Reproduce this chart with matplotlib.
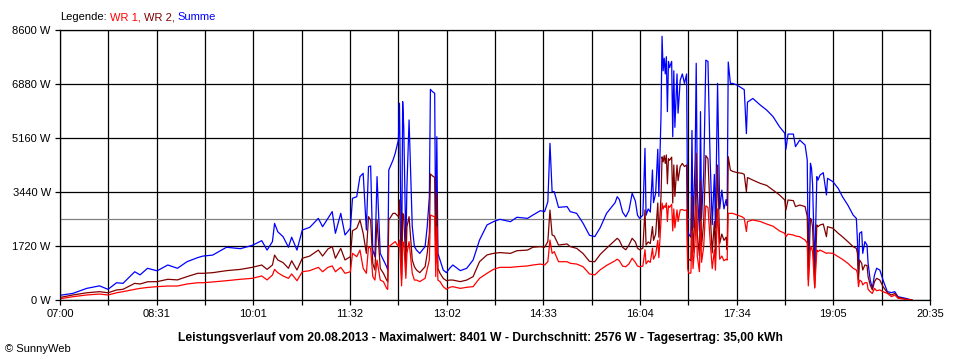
import numpy as np
import matplotlib
matplotlib.use("Agg")
import matplotlib.pyplot as plt

plt.rcParams['font.family'] = ['Liberation Sans', 'DejaVu Sans']

# readings taken off the SunnyWeb chart (time, watts)
times = [
    "07:00", "07:12", "07:25", "07:37", "07:45", "07:53", "07:59", "08:10", "08:15", "08:22",
    "08:31", "08:41", "08:50", "08:59", "09:09", "09:14", "09:23", "09:36", "09:49", "10:00",
    "10:09", "10:14", "10:19", "10:21", "10:24", "10:29", "10:34", "10:37", "10:42", "10:47",
    "10:54", "11:02", "11:06", "11:11", "11:15", "11:18", "11:23", "11:27", "11:32", "11:34",
    "11:38", "11:41", "11:44", "11:47", "11:49", "11:51", "11:53", "11:55", "11:57", "12:00",
    "12:03", "12:06", "12:07", "12:08", "12:12", "12:14", "12:17", "12:18", "12:20", "12:21",
    "12:22", "12:24", "12:25", "12:27", "12:30", "12:32", "12:34", "12:37", "12:42", "12:44",
    "12:46", "12:47", "12:49", "12:51", "12:52", "12:53", "12:54", "12:56", "12:59", "13:02",
    "13:05", "13:08", "13:15", "13:21", "13:27", "13:33", "13:40", "13:46", "13:52", "14:02",
    "14:08", "14:18", "14:23", "14:30", "14:34", "14:37", "14:39", "14:41", "14:43", "14:47",
    "14:55", "14:58", "15:04", "15:10", "15:16", "15:21", "15:26", "15:32", "15:40", "15:42",
    "15:44", "15:47", "15:50", "15:53", "15:56", "15:59", "16:01", "16:03", "16:06", "16:08",
    "16:09", "16:11", "16:13", "16:15", "16:16", "16:18", "16:20", "16:21", "16:23", "16:24",
    "16:25", "16:26", "16:27", "16:28", "16:29", "16:30", "16:31", "16:33", "16:34", "16:35",
    "16:36", "16:38", "16:39", "16:41", "16:43", "16:45", "16:47", "16:48", "16:49", "16:51",
    "16:52", "16:53", "16:55", "16:56", "16:57", "16:59", "17:00", "17:01", "17:03", "17:05",
    "17:07", "17:09", "17:11", "17:13", "17:14", "17:16", "17:18", "17:20", "17:22", "17:24",
    "17:25", "17:26", "17:28", "17:30", "17:34", "17:39", "17:41", "17:43", "17:44", "17:49",
    "17:56", "18:02", "18:08", "18:14", "18:19", "18:20", "18:22", "18:27", "18:29", "18:33",
    "18:38", "18:40", "18:41", "18:43", "18:44", "18:45", "18:47", "18:49", "18:50", "18:52",
    "18:55", "18:58", "18:59", "19:04", "19:09", "19:13", "19:18", "19:23", "19:26", "19:27",
    "19:28", "19:29", "19:31", "19:32", "19:34", "19:36", "19:37", "19:39", "19:41", "19:43",
    "19:45", "19:48", "19:51", "19:55", "19:59", "20:02", "20:05", "20:12", "20:18",
]

summe = [
    150, 210, 370, 450, 340, 550, 530, 900, 800, 1010,
    930, 1115, 1010, 1220, 1350, 1400, 1430, 1680, 1635, 1740,
    1890, 1590, 1860, 2440, 2175, 2015, 1680, 2000, 1590, 2230,
    2315, 2600, 2335, 2600, 2815, 2125, 2760, 2070, 2285, 3240,
    3290, 3930, 4035, 2230, 4245, 4270, 1590, 1380, 3930, 1485,
    1275, 1060, 955, 4140, 4460, 4670, 5095, 6265, 800, 6320,
    5520, 1700, 3610, 5735, 2335, 1700, 1590, 1485, 1700, 2335,
    3290, 6710, 6635, 6585, 1700, 5200, 1485, 1275, 955, 870,
    1010, 1115, 935, 1010, 1275, 1910, 2390, 2495, 2570, 2495,
    2635, 2600, 2705, 2845, 2815, 3130, 4990, 3450, 3450, 2950,
    2975, 2815, 2760, 2445, 2060, 2020, 2300, 2760, 3100, 3290,
    3200, 2800, 2650, 2850, 3400, 3150, 2700, 2600, 2700, 4830,
    2700, 2900, 2800, 4140, 3100, 3400, 4800, 3300, 5840, 8400,
    7300, 7700, 7200, 7750, 6000, 7600, 7400, 7600, 5200, 7300,
    5500, 7200, 5950, 7000, 7200, 6900, 7200, 2230, 2100, 2000,
    5400, 2300, 4500, 7540, 3500, 2200, 6000, 2600, 4000, 7640,
    7600, 4500, 2400, 4000, 2300, 6900, 2900, 3500, 2900, 3200,
    3000, 7580, 6900, 6900, 6850, 6740, 6700, 5300, 6300, 6420,
    6210, 6050, 5840, 5520, 5310, 4800, 5285, 5285, 4885, 5095,
    4935, 4460, 1100, 4355, 4200, 3700, 1000, 3930, 3820, 3980,
    4055, 3345, 3875, 3770, 3555, 3290, 3025, 2705, 2600, 1910,
    850, 2125, 2175, 1485, 1860, 1750, 1170, 635, 370, 795,
    1010, 955, 635, 265, 235, 265, 105, 55, 0,
]

wr2 = [
    80, 160, 230, 265, 230, 320, 340, 530, 510, 580,
    585, 660, 640, 745, 850, 850, 870, 935, 975, 1040,
    1115, 975, 1115, 1430, 1275, 1190, 1010, 1250, 955, 1330,
    1400, 1590, 1400, 1625, 1700, 1330, 1645, 1275, 1380, 2205,
    2285, 2550, 2125, 1485, 2655, 2550, 1170, 955, 2550, 1010,
    850, 635, 585, 2550, 2760, 2760, 2655, 3185, 650, 2760,
    2700, 1060, 2335, 2655, 1275, 1060, 955, 870, 1060, 1485,
    2125, 4015, 3950, 3905, 1170, 3400, 1010, 850, 690, 615,
    635, 635, 585, 635, 745, 1220, 1435, 1485, 1510, 1485,
    1570, 1590, 1680, 1700, 1680, 1860, 2865, 2070, 2040, 1750,
    1785, 1700, 1645, 1480, 1230, 1220, 1450, 1650, 1900, 1965,
    1900, 1680, 1600, 1750, 1965, 1850, 1650, 1600, 1650, 2870,
    1750, 1850, 1800, 2340, 1900, 2100, 3090, 2000, 3300, 4560,
    4400, 4600, 4350, 4620, 3700, 4500, 4450, 4550, 3090, 4300,
    3300, 4300, 3800, 4250, 4350, 4250, 4300, 1270, 1300, 1250,
    3300, 1500, 2800, 4670, 2100, 1400, 3800, 1700, 2500, 4600,
    4500, 2800, 1500, 2500, 1400, 4300, 1800, 2100, 1900, 2000,
    1600, 4565, 4140, 4100, 4060, 4035, 4000, 3450, 3900, 3820,
    3715, 3650, 3500, 3345, 3185, 2865, 3185, 3165, 2975, 3025,
    2975, 2655, 650, 2600, 2550, 2335, 400, 2390, 2335, 2390,
    2420, 2015, 2335, 2285, 2125, 2015, 1860, 1700, 1645, 1485,
    640, 1275, 1170, 955, 1115, 1100, 745, 480, 320, 585,
    690, 635, 425, 235, 160, 210, 85, 30, 0,
]

wr1 = [
    40, 105, 160, 190, 160, 230, 265, 340, 370, 400,
    425, 445, 445, 510, 550, 550, 575, 615, 660, 690,
    765, 640, 795, 975, 870, 765, 690, 830, 615, 900,
    935, 1040, 900, 1040, 1085, 900, 1040, 850, 900, 1485,
    1380, 1590, 1010, 850, 1700, 1645, 745, 635, 1275, 635,
    585, 370, 340, 1700, 1805, 1860, 1700, 1910, 450, 1860,
    1800, 690, 1485, 1860, 850, 635, 635, 585, 690, 975,
    1275, 2705, 2675, 2655, 745, 2335, 635, 585, 425, 340,
    405, 425, 370, 405, 425, 690, 850, 975, 1040, 1040,
    1060, 1085, 1115, 1145, 1115, 1220, 1910, 1485, 1540, 1220,
    1220, 1170, 1145, 1060, 830, 800, 960, 1100, 1250, 1300,
    1250, 1080, 1060, 1150, 1330, 1200, 1080, 1060, 1080, 1600,
    1150, 1250, 1200, 1650, 1300, 1450, 1900, 1350, 2500, 3090,
    2900, 3000, 2950, 3090, 2500, 3000, 2950, 3050, 2200, 2900,
    2300, 2870, 2500, 2870, 2880, 2850, 2870, 1000, 850, 860,
    2200, 1000, 1900, 3000, 1400, 900, 2500, 1200, 1700, 3000,
    2950, 1900, 1000, 1600, 950, 2900, 1300, 1400, 1250, 1300,
    1270, 2760, 2760, 2760, 2710, 2650, 2600, 2180, 2500, 2550,
    2500, 2420, 2350, 2200, 2125, 2015, 2100, 2070, 2040, 2015,
    1910, 1805, 450, 1700, 1650, 1540, 380, 1590, 1540, 1590,
    1540, 1485, 1500, 1485, 1380, 1295, 1170, 1010, 955, 850,
    425, 635, 585, 480, 550, 550, 340, 265, 210, 370,
    295, 320, 265, 210, 105, 160, 55, 20, 0,
]

y_ticks = [0, 1720, 3440, 5160, 6880, 8600]
x_labels = ["07:00", "08:31", "10:01", "11:32", "13:02",
            "14:33", "16:04", "17:34", "19:05", "20:35"]
average = 2576
title = ("Leistungsverlauf vom 20.08.2013 - Maximalwert: 8401 W - "
         "Durchschnitt: 2576 W - Tagesertrag: 35,00 kWh")


def hours(s):
    h, m = s.split(":")
    return int(h) + int(m) / 60


t = [hours(s) for s in times]
t0 = hours(x_labels[0])
t1 = hours(x_labels[-1])

fig = plt.figure(figsize=(9.6, 3.6), dpi=100)
ax = fig.add_axes([60 / 960, 60 / 360, 870 / 960, 270 / 360])

# one grid line every half label step
ticks = np.linspace(t0, t1, 2 * len(x_labels) - 1)
labels = []
for i in range(len(ticks)):
    labels.append(x_labels[i // 2] if i % 2 == 0 else "")
ax.set_xticks(ticks)
ax.set_xticklabels(labels)
ax.set_yticks(y_ticks)
ax.set_yticklabels([f"{v} W" for v in y_ticks])
ax.set_xlim(t0, t1)
ax.set_ylim(0, y_ticks[-1])

ax.grid(True, color="black", lw=0.9)
for sp in ax.spines.values():
    sp.set_color("black")
    sp.set_linewidth(0.9)
ax.tick_params(direction="out", length=3.6, width=0.9, color="black",
               labelsize=8, pad=3)

ax.axhline(average, color="#808080", lw=0.9, zorder=1.8)

ax.plot(t, summe, color="#0000ff", lw=0.9)
ax.plot(t, wr2, color="#800000", lw=0.9)
ax.plot(t, wr1, color="#ff0000", lw=0.9)

# legend line at the top, coloured word by word
renderer = fig.canvas.get_renderer()
x = 60 / 960
for word, col in [("Legende:", "black"), ("WR 1,", "#ff0000"),
                  ("WR 2,", "#800000"), ("Summe", "#0000ff")]:
    txt = fig.text(x, 1 - 17 / 360, word, color=col, fontsize=8, va="center")
    bb = txt.get_window_extent(renderer)
    x = (bb.x1 + 3) / 960

fig.text(0.5, 1 - 338 / 360, title, ha="center", va="center",
         fontsize=8.7, fontweight="bold")
fig.text(5 / 960, 1 - 349 / 360, "\u00a9 SunnyWeb", fontsize=8, va="center")

fig.savefig("out.png", dpi=100)
